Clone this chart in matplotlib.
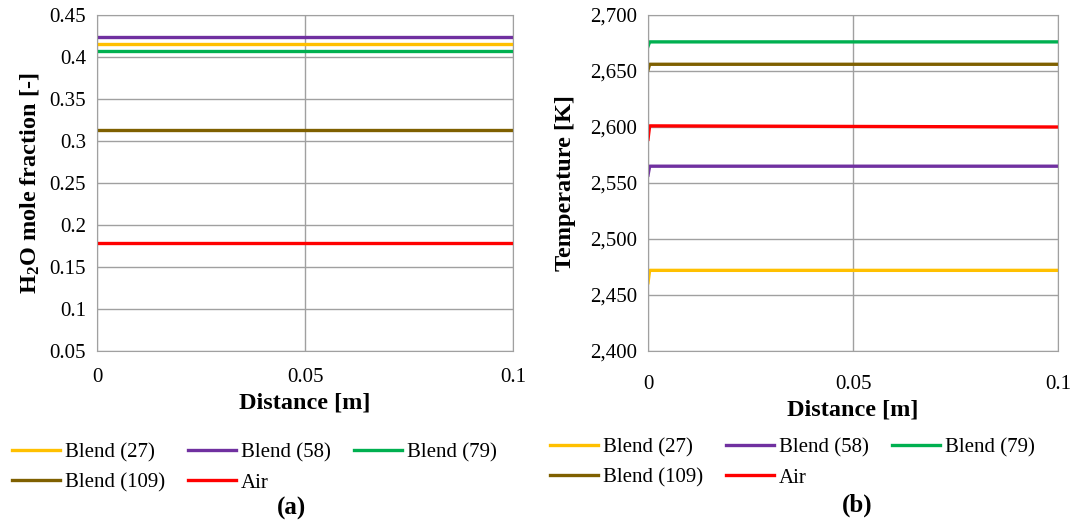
# ================================================================
# 0. Section: IMPORTS
# ================================================================
import matplotlib
matplotlib.use("Agg")
from matplotlib import pyplot as plt
from matplotlib.ticker import FuncFormatter, MultipleLocator


# ================================================================
# 1. Section: DATA
# ================================================================
SERIES = ["Blend (27)", "Blend (58)", "Blend (79)", "Blend (109)", "Air"]
COLORS = ["#FFC000", "#7030A0", "#00B050", "#7F6000", "#FF0000"]

# (a) H2O mole fraction
dist_a = [0.0, 0.1]
h2o_27 = [0.4155, 0.4155]
h2o_58 = [0.424, 0.424]
h2o_79 = [0.407, 0.407]
h2o_109 = [0.3135, 0.3135]
h2o_air = [0.178, 0.178]

# (b) Temperature
dist_b = [0.0, 0.0004, 0.05, 0.1]
temp_27 = [2461, 2472, 2472, 2472]
temp_58 = [2557, 2565, 2565, 2565]
temp_79 = [2672, 2676, 2676, 2676]
temp_109 = [2651, 2656, 2656, 2656]
temp_air = [2589, 2601, 2600.5, 2600]


# ================================================================
# 2. Section: PLOT
# ================================================================
plt.rcParams["font.family"] = ["Liberation Serif", "DejaVu Serif"]
plt.rcParams["mathtext.fontset"] = "custom"
plt.rcParams["mathtext.bf"] = "Liberation Serif:bold"
plt.rcParams["mathtext.rm"] = "Liberation Serif:bold"
plt.rcParams["mathtext.default"] = "bf"

fig = plt.figure(figsize=(10.72, 5.28), dpi=100)
ax_a = fig.add_axes([97 / 1072, 177 / 528, 416 / 1072, 336 / 528])
ax_b = fig.add_axes([648 / 1072, 177 / 528, 410 / 1072, 336 / 528])

grid_col = "#A0A0A0"

for ax in (ax_a, ax_b):
    ax.set_xlim(0, 0.1)
    ax.xaxis.set_major_locator(MultipleLocator(0.05))
    ax.xaxis.set_major_formatter(FuncFormatter(lambda v, p: f"{v:g}"))
    ax.grid(True, color=grid_col, linewidth=1.0)
    ax.set_axisbelow(True)
    for sp in ax.spines.values():
        sp.set_color(grid_col)
    ax.tick_params(length=0, labelsize=15)
    ax.tick_params(axis="y", pad=8)
    ax.set_xlabel("Distance [m]", fontsize=17.5, fontweight="bold", labelpad=4)

ax_a.tick_params(axis="x", pad=12)
ax_b.tick_params(axis="x", pad=17)

# ──────────────────────────────────────────────────────
# 2.1 Subsection: (a)
# ──────────────────────────────────────────────────────
for y, c, lab in zip([h2o_27, h2o_58, h2o_79, h2o_109, h2o_air], COLORS, SERIES):
    ax_a.plot(dist_a, y, color=c, linewidth=2.4, label=lab)
ax_a.set_ylim(0.05, 0.45)
ax_a.yaxis.set_major_locator(MultipleLocator(0.05))
ax_a.yaxis.set_major_formatter(FuncFormatter(lambda v, p: f"{v:g}"))
ax_a.set_ylabel("H$_2$O mole fraction [-]", fontsize=17.5, fontweight="bold",
                labelpad=6)

# ──────────────────────────────────────────────────────
# 2.2 Subsection: (b)
# ──────────────────────────────────────────────────────
for y, c, lab in zip([temp_27, temp_58, temp_79, temp_109, temp_air], COLORS, SERIES):
    ax_b.plot(dist_b, y, color=c, linewidth=2.4, label=lab)
ax_b.set_ylim(2400, 2700)
ax_b.yaxis.set_major_locator(MultipleLocator(50))
ax_b.yaxis.set_major_formatter(FuncFormatter(lambda v, p: f"{v:,.0f}"))
ax_b.set_ylabel("Temperature [K]", fontsize=17.5, fontweight="bold", labelpad=10)

# ──────────────────────────────────────────────────────
# 2.3 Subsection: Legends and captions
# ──────────────────────────────────────────────────────
leg_kw = dict(ncol=3, loc="upper left", frameon=False, fontsize=15,
              handlelength=2.3, handletextpad=0.25, columnspacing=1.1,
              labelspacing=0.5, borderaxespad=0, borderpad=0)
order = [0, 3, 1, 4, 2]  # row-major fill for 3 columns

handles, labels = ax_a.get_legend_handles_labels()
fig.legend([handles[i] for i in order], [labels[i] for i in order],
           bbox_to_anchor=(12 / 1072, 1 - 443 / 528), **leg_kw)
handles, labels = ax_b.get_legend_handles_labels()
fig.legend([handles[i] for i in order], [labels[i] for i in order],
           bbox_to_anchor=(550 / 1072, 1 - 438 / 528), **leg_kw)

fig.text(292 / 1072, 1 - 508 / 528, "(a)", fontsize=18, fontweight="bold",
         ha="center", va="center")
fig.text(857 / 1072, 1 - 505 / 528, "(b)", fontsize=18, fontweight="bold",
         ha="center", va="center")

fig.savefig("out.png", dpi=100)
